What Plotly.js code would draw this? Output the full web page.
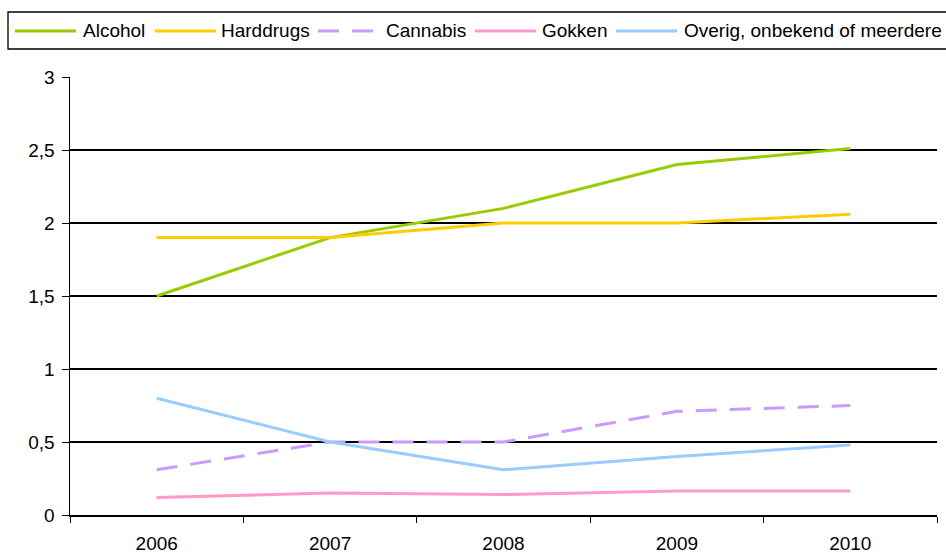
<!DOCTYPE html>
<html>
<head>
<meta charset="utf-8">
<script src="https://cdn.plot.ly/plotly-3.0.1.min.js"></script>
<style>
  html, body { margin: 0; padding: 0; background: #fff; }
  #chart { width: 946px; height: 553px; }
</style>
</head>
<body>
<div id="chart"></div>
<script>
// Years on the horizontal axis
const years = ['2006', '2007', '2008', '2009', '2010'];

// Series values per year
const alcohol   = [1.50, 1.90, 2.10, 2.40, 2.51];
const harddrugs = [1.90, 1.90, 2.00, 2.00, 2.06];
const cannabis  = [0.31, 0.50, 0.50, 0.71, 0.75];
const gokken    = [0.12, 0.15, 0.14, 0.165, 0.165];
const overig    = [0.80, 0.50, 0.31, 0.40, 0.48];

const seriesNames = ['Alcohol', 'Harddrugs', 'Cannabis', 'Gokken', 'Overig, onbekend of meerdere'];
const seriesValues = [alcohol, harddrugs, cannabis, gokken, overig];

// Y axis ticks (decimal comma)
const yTickVals = [0, 0.5, 1, 1.5, 2, 2.5, 3];
const yTickText = ['0', '0,5', '1', '1,5', '2', '2,5', '3'];

// Styling
const colors = ['#99CC00', '#FFCC00', '#CC99FF', '#FF99CC', '#99CCFF'];
const dashes = ['solid', 'solid', '21px,13px', 'solid', 'solid'];
const FONT = 'Liberation Sans, Arial, sans-serif';

const W = 946, H = 553;
const margin = { l: 70, r: 9, t: 77, b: 38 };
const plotW = W - margin.l - margin.r;
const plotH = H - margin.t - margin.b;
// pixel -> paper helpers for the legend box drawn above the plot
const px = p => (p - margin.l) / plotW;
const py = p => (H - margin.b - p) / plotH;

const traces = seriesNames.map((name, i) => ({
  type: 'scatter',
  mode: 'lines',
  name: name,
  x: years,
  y: seriesValues[i],
  line: { color: colors[i], width: 3, dash: dashes[i] },
  showlegend: false,
  hoverinfo: 'skip'
}));

// Legend layout: sample line spans and label starts (pixels)
const legendLines = [[15, 76], [155, 216], [318, 374], [475, 536], [616, 677]];
const legendText = [82, 220, 385, 541, 683];
const legendY = 31;

const shapes = [{
  type: 'rect', xref: 'paper', yref: 'paper',
  x0: px(8), x1: px(1000), y0: py(12), y1: py(49),
  line: { color: '#000', width: 1.3 }, fillcolor: 'rgba(0,0,0,0)', layer: 'above'
}];
const annotations = [];
seriesNames.forEach((name, i) => {
  shapes.push({
    type: 'line', xref: 'paper', yref: 'paper',
    x0: px(legendLines[i][0]), x1: px(legendLines[i][1]),
    y0: py(legendY), y1: py(legendY),
    line: { color: colors[i], width: 3, dash: dashes[i] }
  });
  annotations.push({
    xref: 'paper', yref: 'paper',
    x: px(legendText[i]), y: py(legendY),
    xanchor: 'left', yanchor: 'middle',
    text: name, showarrow: false,
    font: { family: FONT, size: 19, color: '#000' },
    borderpad: 0
  });
});

const layout = {
  width: W, height: H,
  margin: margin,
  paper_bgcolor: '#fff',
  plot_bgcolor: '#fff',
  font: { family: FONT, size: 19, color: '#000' },
  separators: ',.',
  showlegend: false,
  xaxis: {
    type: 'category',
    categoryorder: 'array',
    categoryarray: years,
    range: [-0.5, 4.5],
    showline: true, linecolor: '#000', linewidth: 1.5,
    ticks: 'outside', tickson: 'boundaries', ticklen: 6, tickcolor: '#000', tickwidth: 1,
    showgrid: false, zeroline: false,
    tickfont: { family: FONT, size: 19, color: '#000' },
    ticklabelstandoff: 11,
    fixedrange: true
  },
  yaxis: {
    range: [0, 3],
    tickvals: yTickVals, ticktext: yTickText,
    showline: true, linecolor: '#000', linewidth: 1.5,
    ticks: 'outside', ticklen: 7, tickcolor: '#000', tickwidth: 1,
    showgrid: true, gridcolor: '#000', gridwidth: 1.2,
    zeroline: false,
    tickfont: { family: FONT, size: 19, color: '#000' },
    ticklabelstandoff: 3,
    fixedrange: true
  },
  shapes: shapes,
  annotations: annotations
};

Plotly.newPlot('chart', traces, layout, { staticPlot: true, displayModeBar: false });
</script>
</body>
</html>
